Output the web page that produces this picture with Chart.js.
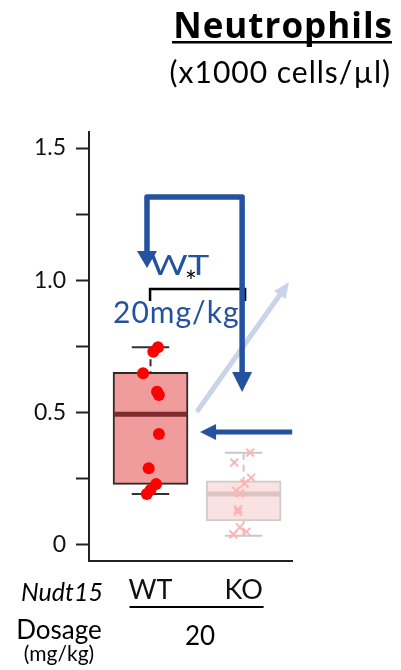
<!DOCTYPE html>
<html>
<head>
<meta charset="utf-8">
<script src="https://cdn.jsdelivr.net/npm/chart.js@4.4.1/dist/chart.umd.min.js"></script>
<style>
  html, body { margin: 0; padding: 0; background: #fff; }
  #wrap { width: 401px; height: 670px; position: relative; }
</style>
</head>
<body>
<div id="wrap"><canvas id="neutro"></canvas></div>
<script>
// genotype groups and box summaries (x1000 cells/µl)
const groups = ['WT', 'KO'];
const boxQ1 = [0.229, 0.091];
const boxMedian = [0.494, 0.193];
const boxQ3 = [0.652, 0.242];
const whiskerLow = [0.193, 0.035];
const whiskerHigh = [0.747, 0.349];

// individual mice, with horizontal jitter around the group
const wtCounts = [0.747, 0.730, 0.649, 0.579, 0.567, 0.419, 0.290, 0.230, 0.208, 0.193];
const wtJitter = [0.08, 0.03, -0.08, 0.07, 0.09, 0.09, -0.02, 0.06, 0.0, -0.04];
const koCounts = [0.349, 0.311, 0.254, 0.233, 0.205, 0.195, 0.135, 0.126, 0.067, 0.050, 0.040];
const koJitter = [0.07, -0.10, 0.08, 0.01, -0.08, -0.04, -0.06, -0.06, -0.04, 0.03, -0.11];

const yTickValues = [0, 0.25, 0.5, 0.75, 1.0, 1.25, 1.5];
const yTickLabels = ['0', '', '0.5', '', '1.0', '', '1.5'];

const FONT = 'Lato';
const BLUE = '#2451a0';

const boxStyle = {
  whisker: ['#333333', '#c9c9c9'],
  median: ['#7d2b2f', '#dcc4c4']
};

function arrowHead(ctx, x0, y0, x1, y1, len, half) {
  const a = Math.atan2(y1 - y0, x1 - x0);
  ctx.beginPath();
  ctx.moveTo(x1, y1);
  ctx.lineTo(x1 - len * Math.cos(a) + half * Math.sin(a), y1 - len * Math.sin(a) - half * Math.cos(a));
  ctx.lineTo(x1 - len * Math.cos(a) - half * Math.sin(a), y1 - len * Math.sin(a) + half * Math.cos(a));
  ctx.closePath();
  ctx.fill();
}

function spacedText(ctx, text, x, y, spacing) {
  ctx.letterSpacing = spacing + 'px';
  ctx.fillText(text, x, y);
  ctx.letterSpacing = '0px';
}

// text drawn a little wider than the font's natural width
function wideText(ctx, text, x, y, stretch) {
  ctx.save();
  ctx.translate(x, y);
  ctx.scale(stretch, 1);
  ctx.fillText(text, 0, 0);
  ctx.restore();
}

// whiskers behind the boxes, medians on top of them
const boxParts = {
  id: 'boxParts',
  beforeDatasetDraw(chart, args) {
    if (args.meta.type !== 'bar') return;
    const { ctx, scales: { x, y } } = chart;
    groups.forEach((g, i) => {
      const bar = args.meta.data[i];
      const cx = x.getPixelForValue(i + 1);
      const cap = bar.width / 4;
      const lo = y.getPixelForValue(whiskerLow[i]);
      const hi = y.getPixelForValue(whiskerHigh[i]);
      ctx.save();
      ctx.strokeStyle = boxStyle.whisker[i];
      ctx.lineWidth = 2;
      ctx.setLineDash([7, 5]);
      ctx.beginPath();
      ctx.moveTo(cx, hi); ctx.lineTo(cx, y.getPixelForValue(boxQ3[i]));
      ctx.moveTo(cx, lo); ctx.lineTo(cx, y.getPixelForValue(boxQ1[i]));
      ctx.stroke();
      ctx.setLineDash([]);
      ctx.beginPath();
      ctx.moveTo(cx - cap, hi); ctx.lineTo(cx + cap, hi);
      ctx.moveTo(cx - cap, lo); ctx.lineTo(cx + cap, lo);
      ctx.stroke();
      ctx.restore();
    });
  },
  afterDatasetDraw(chart, args) {
    if (args.meta.type !== 'bar') return;
    const { ctx, scales: { y } } = chart;
    groups.forEach((g, i) => {
      const bar = args.meta.data[i];
      const m = y.getPixelForValue(boxMedian[i]);
      ctx.save();
      ctx.strokeStyle = boxStyle.median[i];
      ctx.lineWidth = 5;
      ctx.beginPath();
      ctx.moveTo(bar.x - bar.width / 2 + 1, m);
      ctx.lineTo(bar.x + bar.width / 2 - 1, m);
      ctx.stroke();
      ctx.restore();
    });
  }
};

// titles, bottom table, bracket and arrows
const decorations = {
  id: 'decorations',
  afterDraw(chart) {
    const { ctx, scales: { x, y } } = chart;
    const X = v => x.getPixelForValue(v);
    const Y = v => y.getPixelForValue(v);
    ctx.save();

    // title
    ctx.fillStyle = '#000';
    ctx.textAlign = 'right';
    ctx.textBaseline = 'alphabetic';
    ctx.font = `bold 35px 'Open Sans'`;
    spacedText(ctx, 'Neutrophils', 393, 38, 1);
    ctx.fillRect(172, 41, 220, 2.5);
    ctx.font = `30px ${FONT}`;
    spacedText(ctx, '(x1000 cells/µl)', 391, 83, 1);

    // bottom rows
    ctx.textAlign = 'left';
    ctx.font = `italic 25px ${FONT}`;
    ctx.fillText('Nudt15', 21, 601);
    ctx.fillRect(X(1) - 21, 606, X(2) - X(1) + 41, 2);
    ctx.textAlign = 'center';
    ctx.font = `26px ${FONT}`;
    ctx.fillText('Dosage', 59, 639);
    ctx.fillText('20', 200, 645);
    ctx.font = `21px ${FONT}`;
    ctx.fillText('(mg/kg)', 59, 661);

    // significance bracket
    ctx.strokeStyle = '#000';
    ctx.lineWidth = 2.5;
    ctx.beginPath();
    ctx.moveTo(X(0.995), Y(0.922));
    ctx.lineTo(X(0.995), Y(0.967));
    ctx.lineTo(X(2.016), Y(0.967));
    ctx.lineTo(X(2.016), Y(0.922));
    ctx.stroke();
    ctx.font = `28px ${FONT}`;
    ctx.fillText('*', X(1.435), Y(0.955));

    // blue labels
    ctx.fillStyle = BLUE;
    ctx.textAlign = 'left';
    ctx.font = `27px ${FONT}`;
    wideText(ctx, 'WT', X(0.995), Y(1.02), 1.35);
    ctx.font = `30px ${FONT}`;
    spacedText(ctx, '20mg/kg', X(0.597), Y(0.839), 1);

    ctx.lineJoin = 'round';

    // faded diagonal arrow
    ctx.strokeStyle = '#c9d4e8';
    ctx.fillStyle = '#c9d4e8';
    ctx.lineWidth = 5;
    ctx.lineCap = 'round';
    let x0 = X(1.511), y0 = Y(0.510), x1 = X(2.489), y1 = Y(0.994);
    ctx.beginPath();
    ctx.moveTo(x0, y0); ctx.lineTo(x1 - 10 * 0.58, y1 + 10 * 0.81);
    ctx.stroke();
    arrowHead(ctx, x0, y0, x1, y1, 16, 7);
    ctx.lineCap = 'butt';

    // elbow arrow from WT round to KO
    ctx.strokeStyle = BLUE;
    ctx.fillStyle = BLUE;
    ctx.lineWidth = 5.5;
    const ax = X(0.962), bx = X(1.984), top = Y(1.315);
    const tipL = Y(1.047), tipR = Y(0.578);
    ctx.beginPath();
    ctx.moveTo(ax, tipL - 12);
    ctx.lineTo(ax, top);
    ctx.lineTo(bx, top);
    ctx.lineTo(bx, tipR - 14);
    ctx.stroke();
    arrowHead(ctx, ax, top, ax, tipL, 17, 10);
    arrowHead(ctx, bx, top, bx, tipR, 20, 10);

    // horizontal arrow pointing at the WT median
    ctx.lineWidth = 5;
    x0 = X(2.522); x1 = X(1.532); y0 = y1 = Y(0.427);
    ctx.beginPath();
    ctx.moveTo(x0, y0); ctx.lineTo(x1 + 10, y1);
    ctx.stroke();
    arrowHead(ctx, x0, y0, x1, y1, 16, 8);

    ctx.restore();
  }
};

new Chart(document.getElementById('neutro'), {
  type: 'bar',
  data: {
    datasets: [
      {
        type: 'bar',
        order: 3,
        data: groups.map((g, i) => ({ x: i + 1, y: [boxQ1[i], boxQ3[i]] })),
        backgroundColor: ['#f09c9c', '#fbe2e2'],
        borderColor: ['#2b2b2b', '#cdcdcd'],
        borderWidth: 2,
        borderSkipped: false,
        barThickness: 75,
        grouped: false
      },
      {
        type: 'scatter',
        order: 1,
        label: 'WT',
        data: wtCounts.map((v, i) => ({ x: 1 + wtJitter[i], y: v })),
        pointStyle: 'circle',
        pointRadius: 6,
        backgroundColor: '#ff0000',
        borderWidth: 0
      },
      {
        type: 'scatter',
        order: 2,
        label: 'KO',
        data: koCounts.map((v, i) => ({ x: 2 + koJitter[i], y: v })),
        pointStyle: 'crossRot',
        pointRadius: 5.5,
        borderColor: '#ffb3b3',
        borderWidth: 2
      }
    ]
  },
  options: {
    responsive: true,
    maintainAspectRatio: false,
    animation: false,
    layout: { padding: { top: 132, right: 109, bottom: 0, left: 0 } },
    plugins: {
      legend: { display: false },
      tooltip: { enabled: false }
    },
    scales: {
      x: {
        type: 'linear',
        min: 0.339,
        max: 2.52,
        offset: false,
        afterFit(s) { s.height = 109; },
        afterBuildTicks(s) { s.ticks = groups.map((g, i) => ({ value: i + 1 })); },
        grid: { display: false, drawTicks: false, offset: false },
        border: { display: true, color: '#222', width: 2 },
        ticks: {
          callback: v => groups[v - 1] || '',
          autoSkip: false,
          maxRotation: 0,
          padding: 13,
          color: '#111',
          font: { family: FONT, size: 27 }
        }
      },
      y: {
        min: -0.0605,
        max: 1.5605,
        afterFit(s) { s.width = 89; },
        afterBuildTicks(s) { s.ticks = yTickValues.map(v => ({ value: v })); },
        grid: { display: true, drawOnChartArea: false, tickLength: 13, tickColor: '#222', tickWidth: 2 },
        border: { display: true, color: '#222', width: 2 },
        ticks: {
          callback: (v, i) => yTickLabels[i],
          padding: 10,
          color: '#111',
          font: { family: FONT, size: 23 }
        }
      }
    }
  },
  plugins: [boxParts, decorations]
});
</script>
</body>
</html>
